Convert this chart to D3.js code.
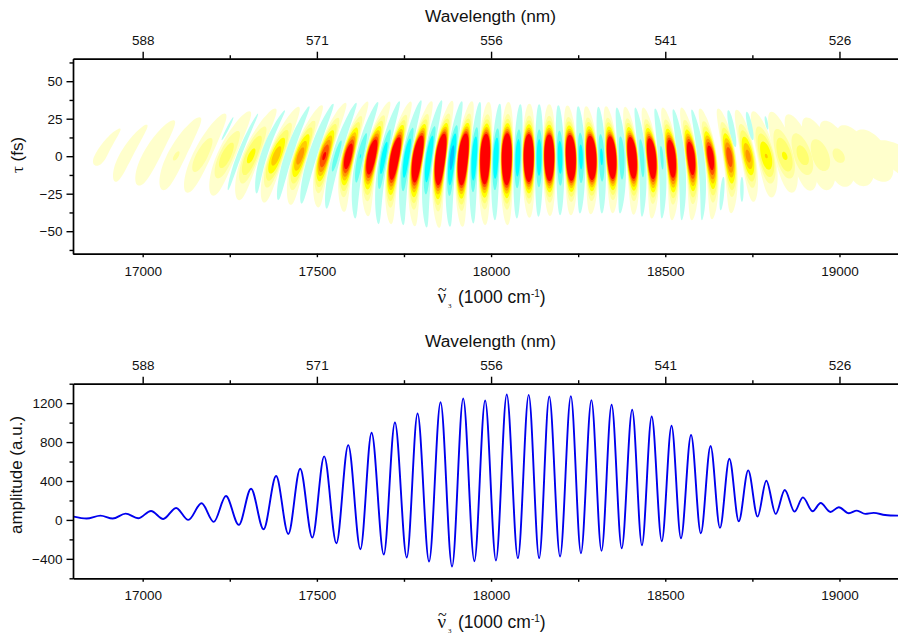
<!DOCTYPE html>
<html lang="en">
<head>
<meta charset="utf-8">
<script src="https://d3js.org/d3.v7.min.js"></script>
<style>
    body { margin: 0; background: #fff; }
    svg text { font-family: "Liberation Sans", Arial, sans-serif; fill: #111; }
    .axis path, .axis line { stroke: #000; stroke-width: 1.4; }
    .axis text { font-size: 13.5px; font-family: "Liberation Sans", Arial, sans-serif; fill: #111; }
    .title { font-size: 17px; }
</style>
</head>
<body>
<svg width="898" height="635"></svg>
<script>
// tick values
var nuMajor = [17000, 17500, 18000, 18500, 19000];
var nuMinor = [17250, 17750, 18250, 18750];
var wavelengthLabels = ["588", "571", "556", "541", "526"];
var tauMajor = [-50, -25, 0, 25, 50];
var tauMinor = [-62.5, -37.5, -12.5, 12.5, 37.5, 62.5];
var ampMajor = [-400, 0, 400, 800, 1200];
var ampMinor = [-600, -200, 200, 600, 1000, 1400];

// the trace: start, every turning point, end
var traceNu = [16802, 16839, 16879, 16914, 16951, 16987, 17024, 17059, 17096, 17131, 17169, 17204, 17239, 17276, 17311, 17347, 17383, 17418, 17452, 17487, 17521, 17556, 17590, 17625, 17657, 17692, 17724, 17758, 17789, 17822, 17855, 17888, 17920, 17952, 17983, 18014, 18045, 18077, 18108, 18138, 18167, 18198, 18229, 18258, 18288, 18317, 18346, 18375, 18405, 18433, 18461, 18490, 18518, 18545, 18574, 18602, 18630, 18657, 18684, 18711, 18738, 18765, 18790, 18817, 18843, 18871, 18895, 18923, 18946, 18974, 18998, 19027, 19050, 19074, 19098, 19131, 19168];
var traceAmp = [34, 14, 44, 14, 65, 17, 92, 10, 123, 0, 171, -20, 246, -51, 321, -96, 451, -144, 526, -181, 653, -239, 769, -301, 896, -356, 1002, -386, 1094, -427, 1210, -479, 1248, -424, 1227, -417, 1289, -393, 1285, -393, 1268, -376, 1272, -342, 1231, -318, 1183, -291, 1132, -260, 1063, -219, 968, -188, 872, -137, 759, -82, 629, -14, 509, 34, 403, 62, 308, 85, 232, 89, 174, 82, 130, 68, 96, 62, 72, 51, 44];

// upper panel: contour levels and their fill colours
var posLevels = [25, 120, 200, 300, 400, 480, 560, 640];
var posColors = ["#ffffcc", "#ffffa0", "#ffff70", "#ffff00", "#ffcc00", "#ff9900", "#ff5500", "#ff0000"];
var negLevels = [30, 200, 300, 430];
var negColors = ["#b8fff0", "#66ffee", "#00ffff", "#00c4ff"];

// positive fringes: offset of the upper and lower tips from the centre on the trace, half width
var posTopDnu = [55, 60, 64, 67, 66, 67, 69, 64, 62, 61, 55, 51, 45, 40, 33, 25, 10, 5, 2, 0, -10, -15, -16, -20, -24, -25, -27, -30, -32, -33, -37, -38, -41, -40, -39, -38, -33, -47];
var posTopTau = [18.4, 21, 24, 26, 28.4, 30, 31.8, 32.9, 34, 35.6, 36.4, 36.4, 36.4, 36.7, 36.9, 36.7, 36.2, 36.2, 35, 34.7, 33.8, 33.3, 33.3, 32.9, 32.4, 32.4, 32.4, 31.8, 31.8, 31, 30, 29.6, 28, 25.8, 23.6, 20.7, 17.8, 10.7];
var posBotDnu = [-11, -28, -34, -36, -40, -36, -34, -34, -27, -17, -12, -10, -11, -8, -4, -2, 0, 2, 2, 2, 0, -2, 3, 4, 0, 1, 2, 4, 5, 15, 15, 20, 21, 17, 18, 19, 29, 34];
var posBotTau = [-6.4, -17, -19.6, -22.7, -24.4, -26.4, -29.3, -30.9, -32.4, -34.2, -37.1, -40, -45.3, -46.7, -47.8, -47.1, -46, -46, -41, -39.8, -39.3, -38.7, -38, -39, -41.6, -42.7, -42.7, -42, -38, -30.4, -27.6, -24.4, -23, -22.7, -20.4, -20, -17, -14];
var posHalf = [18, 20, 27, 28, 28, 28, 26, 24, 22, 21, 20, 20, 19, 19, 19, 19, 19, 19, 19, 19, 19, 19, 18, 18, 18, 18, 18, 18, 19, 21, 26, 30, 34, 38, 42, 45, 48, 50];

// negative fringes, same columns
var negTopDnu = [55, 61, 60, 60, 57, 50, 45, 41, 36, 28, 16, 11, 7, 0, -5, -8, -9, -14, -19, -19, -22, -26];
var negTopTau = [28.4, 30.7, 33.3, 35, 35.6, 36.2, 36.7, 37.3, 37.3, 36.7, 36.2, 35, 34.7, 34.7, 34, 33.3, 32.9, 32.4, 32.4, 31.8, 31.3, 31.1];
var negBotDnu = [-31, -20, -29, -31, -28, -15, -15, -10, -7, -6, -3, -3, -3, -2, 0, -3, 1, -5, 0, 0, 2, 3];
var negBotTau = [-22.7, -24.9, -29.3, -31.6, -34.9, -41.6, -45.3, -46, -47.6, -47.1, -44.9, -42.7, -41.6, -40.4, -39.3, -38.2, -38.2, -38.2, -40.4, -41.6, -42.7, -42.7];
var negHalf = [7, 10, 12, 13, 13, 13, 13, 13, 13, 13, 12, 12, 12, 12, 12, 12, 12, 12, 11, 11, 11, 10];

// pale cyan pieces that don't cross tau = 0
var fragTopNu = [17260, 18681, 18667, 18734, 18720, 18787];
var fragTopTau = [26, 30.7, -13.8, 29.6, -13.8, 26.7];
var fragBotNu = [17227, 18701, 18659, 18751, 18720, 18794];
var fragBotTau = [10.7, 6.2, -36, 10.7, -30.4, 17.8];
var fragHalf = [4, 8, 6, 7, 5, 4];

var svg = d3.select("svg");
var x = d3.scaleLinear().domain([16800, 19168]).range([73, 898]);
var yTau = d3.scaleLinear().domain([-65, 65]).range([253.7, 58.7]);
var yAmp = d3.scaleLinear().domain([-600, 1400]).range([578.3, 383.7]);

// one closed outline of a fringe, shrunk by rv along tau and rh across it
function fringePath(f, rv, rh) {
    // centre line is the parabola through the two tips and the middle
    function centre(t) {
        var a = f.topTau, b = f.tau, c = f.botTau;
        return f.topNu * (t - b) * (t - c) / ((a - b) * (a - c))
             + f.nu * (t - a) * (t - c) / ((b - a) * (b - c))
             + f.botNu * (t - a) * (t - b) / ((c - a) * (c - b));
    }
    var pts = [];
    for (let i = 0; i < 40; i++) {
        var th = i / 40 * 2 * Math.PI;
        var u = Math.cos(th);
        var t = f.tau + u * rv * (u > 0 ? f.topTau - f.tau : f.tau - f.botTau);
        var s = Math.sin(th);
        var w = f.half * rh * Math.sign(s) * Math.pow(Math.abs(s), 0.95);
        pts.push([x(centre(t) + w), yTau(t)]);
    }
    return d3.line().curve(d3.curveCatmullRomClosed)(pts);
}

// split the trace into its maxima and minima
var peaks = [];
var troughs = [];
for (let i = 1; i < traceNu.length - 1; i++) {
    if (traceAmp[i] > traceAmp[i - 1] && traceAmp[i] > traceAmp[i + 1]) peaks.push(i);
    if (traceAmp[i] < traceAmp[i - 1] && traceAmp[i] < traceAmp[i + 1] && traceAmp[i] <= -40 && traceNu[i] < 18620) troughs.push(i);
}
peaks.push(traceNu.length - 1); // the tail running out of the frame

var posFringes = peaks.map(function(k, i) {
    return {nu: traceNu[k], tau: 0, amp: traceAmp[k], half: posHalf[i],
        topNu: traceNu[k] + posTopDnu[i], topTau: posTopTau[i],
        botNu: traceNu[k] + posBotDnu[i], botTau: posBotTau[i]};
});
var negFringes = troughs.map(function(k, i) {
    return {nu: traceNu[k], tau: 0, amp: -traceAmp[k], half: negHalf[i],
        topNu: traceNu[k] + negTopDnu[i], topTau: negTopTau[i],
        botNu: traceNu[k] + negBotDnu[i], botTau: negBotTau[i]};
});
var pieces = fragTopNu.map(function(n, i) {
    return {nu: (n + fragBotNu[i]) / 2, tau: (fragTopTau[i] + fragBotTau[i]) / 2, half: fragHalf[i],
        topNu: n, topTau: fragTopTau[i], botNu: fragBotNu[i], botTau: fragBotTau[i]};
});

svg.append("clipPath").attr("id", "clipTop").append("rect")
    .attr("x", x.range()[0]).attr("y", yTau.range()[1])
    .attr("width", x.range()[1] - x.range()[0]).attr("height", yTau.range()[0] - yTau.range()[1]);
var map = svg.append("g").attr("clip-path", "url(#clipTop)");

// draw a family of fringes one contour level at a time
function drawLevel(fringes, levels, colors, l) {
    var L = levels[l];
    var L0 = levels[0];
    var some = fringes.filter(function(f) { return f.amp > L; });
    map.selectAll(null).data(some).enter().append("path")
        .attr("fill", colors[l])
        .attr("d", function(f) {
            var rv = Math.sqrt(Math.log(f.amp / L) / Math.log(f.amp / L0));
            var rh = Math.pow(Math.acos(L / f.amp) / Math.acos(L0 / f.amp), 0.75);
            return fringePath(f, rv, rh);
        });
}

drawLevel(posFringes, posLevels, posColors, 0);
drawLevel(negFringes, negLevels, negColors, 0);
map.selectAll(null).data(pieces).enter().append("path")
    .attr("fill", negColors[0])
    .attr("d", function(f) { return fringePath(f, 1, 1); });
for (let l = 1; l < negLevels.length; l++) drawLevel(negFringes, negLevels, negColors, l);
for (let l = 1; l < posLevels.length; l++) drawLevel(posFringes, posLevels, posColors, l);

// lower panel trace
var traceLine = d3.line()
    .x(function(d, i) { return x(traceNu[i]); })
    .y(function(d) { return yAmp(d); })
    .curve(d3.curveMonotoneX);
svg.append("clipPath").attr("id", "clipBottom").append("rect")
    .attr("x", x.range()[0]).attr("y", yAmp.range()[1])
    .attr("width", x.range()[1] - x.range()[0]).attr("height", yAmp.range()[0] - yAmp.range()[1]);
svg.append("path")
    .attr("clip-path", "url(#clipBottom)")
    .attr("fill", "none")
    .attr("stroke", "#0000ee")
    .attr("stroke-width", 1.9)
    .attr("d", traceLine(traceAmp));

function axisGroup(axis, tx, ty) {
    return svg.append("g").attr("class", "axis")
        .attr("transform", "translate(" + tx + "," + ty + ")")
        .call(axis.tickSizeOuter(0));
}

// frame, ticks and labels of one panel
function drawAxes(y, yMajor, yMinor, bottomY, topY) {
    axisGroup(d3.axisBottom(x).tickValues(nuMajor).tickSize(3.5).tickPadding(9).tickFormat(d3.format("d")), 0, bottomY);
    axisGroup(d3.axisBottom(x).tickValues(nuMinor).tickSize(3.5).tickFormat(""), 0, bottomY);
    axisGroup(d3.axisTop(x).tickValues(nuMajor).tickSize(7).tickPadding(7)
        .tickFormat(function(d, i) { return wavelengthLabels[i]; }), 0, topY);
    axisGroup(d3.axisTop(x).tickValues(nuMinor).tickSize(3.5).tickFormat(""), 0, topY);
    axisGroup(d3.axisLeft(y).tickValues(yMajor).tickSize(6.5).tickPadding(4).tickFormat(d3.format("d")), x.range()[0], 0);
    axisGroup(d3.axisLeft(y).tickValues(yMinor).tickSize(3.5).tickFormat(""), x.range()[0], 0);
}
drawAxes(yTau, tauMajor, tauMinor, yTau.range()[0], yTau.range()[1]);
drawAxes(yAmp, ampMajor, ampMinor, yAmp.range()[0], yAmp.range()[1]);

// axis title in one text element, the tilde is moved back over the nu
function xTitle(baseline) {
    var t = svg.append("text").attr("class", "title").attr("x", 437.5).attr("y", baseline).style("font-size", "17.5px");
    t.append("tspan").style("font-family", "'Liberation Serif', serif").style("font-size", "19px").text("\u03bd");
    t.append("tspan").attr("x", 438).attr("dy", -8).style("font-family", "'Liberation Serif', serif").style("font-size", "16px").text("~");
    t.append("tspan").attr("x", 448).attr("dy", 13).style("font-family", "'Liberation Serif', serif").style("font-size", "7px").text("3");
    t.append("tspan").attr("x", 458).attr("dy", -5).text("(1000 cm");
    t.append("tspan").style("font-size", "10px").attr("dy", -6).text("-1");
    t.append("tspan").attr("dy", 6).text(")");
}
xTitle(303);
xTitle(628);

[yTau.range()[1] - 37, yAmp.range()[1] - 37].forEach(function(yy) {
    svg.append("text").attr("class", "title").attr("x", 490.5).attr("y", yy)
        .style("font-size", "17.3px")
        .attr("text-anchor", "middle").text("Wavelength (nm)");
});

var tauTitle = svg.append("text").attr("class", "title")
    .attr("transform", "translate(23,155) rotate(-90)").attr("text-anchor", "middle");
tauTitle.append("tspan").style("font-family", "'Liberation Serif', serif").text("\u03c4");
tauTitle.append("tspan").text(" (fs)");

svg.append("text").attr("class", "title")
    .attr("transform", "translate(22,475) rotate(-90)").attr("text-anchor", "middle")
    .text("amplitude (a.u.)");
</script>
</body>
</html>
